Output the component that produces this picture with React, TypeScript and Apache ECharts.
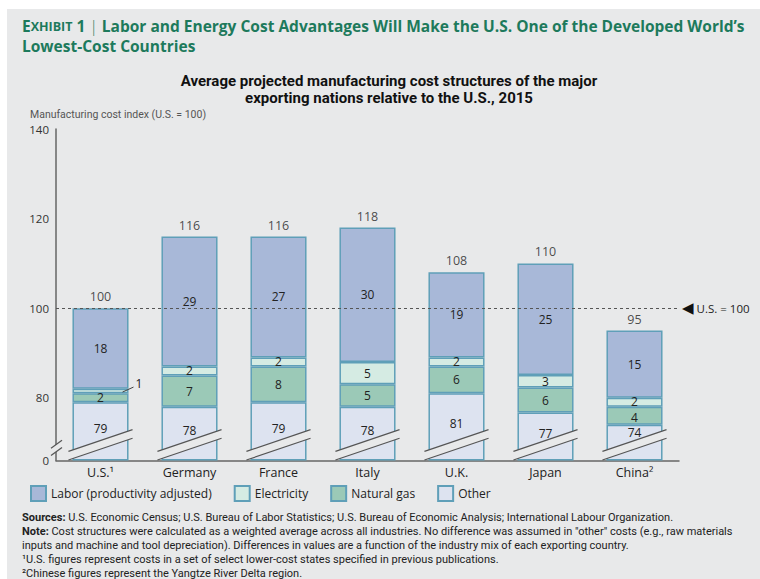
import React, { useEffect, useRef } from "react";
import * as echarts from "echarts";

const countries = ["U.S.¹", "Germany", "France", "Italy", "U.K.", "Japan", "China²"];
const otherCost = [79, 78, 79, 78, 81, 76.7, 74];
const naturalGasCost = [2, 7, 8, 5, 6, 5.6, 4];
const electricityCost = [1, 2, 2, 5, 2, 2.8, 2];
const laborCost = [18, 29, 27, 30, 19, 24.9, 15];
const totalCost = [100, 116, 116, 118, 108, 110, 95];
const yTickLabels = [0, 80, 100, 120, 140];
const seriesNames = ["Labor (productivity adjusted)", "Electricity", "Natural gas", "Other"];
const referenceLevel = 100;
const axisBase = 66; // real value that sits at the broken axis' "0"
const breakLevel = 69.5; // real value where break marks cross the bars

const BG = "#e8e9ea";
const GREEN = "#1d7a5c";
const BORDER = "#5f9fb8";
const FONT = "'Open Sans', 'Noto Sans', sans-serif";
const NARROW = "'Liberation Sans Narrow', 'Roboto', sans-serif";

const colors = {
  labor: "#a8b8d8",
  electricity: "#d5ebe3",
  gas: "#9bc9b7",
  other: "#dde3f0",
};

export default function App() {
  const ref = useRef<HTMLDivElement>(null);

  useEffect(() => {
    if (!ref.current) return;
    const chart = echarts.init(ref.current, null, { renderer: "svg" });
    const last = countries.length - 1;

    const valueLabel = (arr: number[]) => ({
      show: true,
      position: "inside" as const,
      color: "#222",
      fontFamily: FONT,
      fontSize: 12,
      lineHeight: 12,
      formatter: (p: any) => String(Math.round(arr[p.dataIndex])),
    });

    const itemStyle = (color: string) => ({
      color,
      borderColor: BORDER,
      borderWidth: 1.5,
    });

    const option: any = {
      animation: false,
      backgroundColor: "transparent",
      grid: { left: 56, right: 81, top: 129, bottom: 118.5, containLabel: false },
      legend: {
        data: seriesNames,
        left: 25,
        top: 480,
        icon: "rect",
        itemWidth: 15,
        itemHeight: 15,
        itemGap: 22,
        selectedMode: false,
        textStyle: { fontFamily: FONT, fontSize: 12, color: "#222" },
      },
      xAxis: {
        type: "category",
        data: countries,
        axisLine: { show: true, lineStyle: { color: "#666", width: 1.5 } },
        axisTick: { show: false },
        axisLabel: { fontFamily: FONT, fontSize: 12.5, color: "#222", margin: 5 },
      },
      yAxis: {
        type: "value",
        min: 0,
        max: 140 - axisBase,
        splitLine: { show: false },
        axisTick: { show: false },
        axisLine: { show: true, lineStyle: { color: "#666", width: 1.5 } },
        axisLabel: {
          customValues: yTickLabels.map((v) => (v === 0 ? 0 : v - axisBase)),
          formatter: (v: number) => (v === 0 ? "0" : String(Math.round(v + axisBase))),
          fontFamily: FONT,
          fontSize: 11.5,
          color: "#333",
          margin: 7,
        },
      },
      series: [
        {
          name: "Other",
          type: "bar",
          stack: "cost",
          barWidth: "63%",
          itemStyle: itemStyle(colors.other),
          label: { ...valueLabel(otherCost), offset: [0, -3] },
          data: otherCost.map((v, i) =>
            i === last ? { value: v - axisBase, label: { offset: [0, -10] } } : v - axisBase
          ),
        },
        {
          name: "Natural gas",
          type: "bar",
          stack: "cost",
          itemStyle: itemStyle(colors.gas),
          label: valueLabel(naturalGasCost),
          data: naturalGasCost.map((v, i) =>
            i === last ? { value: v, label: { offset: [0, 1.5] } } : v
          ),
        },
        {
          name: "Electricity",
          type: "bar",
          stack: "cost",
          itemStyle: itemStyle(colors.electricity),
          label: valueLabel(electricityCost),
          data: electricityCost.map((v, i) =>
            v < 1.5
              ? { value: v, label: { show: false } }
              : i === last
              ? { value: v, label: { offset: [0, -1] } }
              : v
          ),
        },
        {
          name: "Labor (productivity adjusted)",
          type: "bar",
          stack: "cost",
          itemStyle: itemStyle(colors.labor),
          label: valueLabel(laborCost),
          data: laborCost,
          markLine: {
            silent: true,
            symbol: ["none", "none"],
            lineStyle: { color: "#555", width: 1.2, type: [3, 3] },
            label: {
              show: true,
              position: "end",
              distance: 3,
              formatter: "{t|◀}{u| U.S. = 100}",
              rich: {
                t: { fontSize: 15, color: "#111", fontFamily: "'DejaVu Sans', sans-serif" },
                u: { fontSize: 11.5, color: "#222", fontFamily: FONT },
              },
            },
            data: [{ yAxis: referenceLevel - axisBase }],
          },
        },
        {
          name: "total",
          type: "scatter",
          silent: true,
          symbolSize: 0,
          z: 4,
          label: {
            show: true,
            position: "top",
            distance: 5,
            color: "#222",
            fontFamily: FONT,
            fontSize: 12.5,
            formatter: (p: any) => String(totalCost[p.dataIndex]),
          },
          data: totalCost.map((v, i) => [i, v - axisBase]),
        },
        {
          name: "break",
          type: "custom",
          silent: true,
          z: 3,
          renderItem: (_params: any, api: any) => {
            const c = api.coord([api.value(0), api.value(1)]);
            const half = api.size([1, 0])[0] * 0.36;
            const rise = half * 0.34;
            const gap = 4.3;
            const x1 = c[0] - half;
            const x2 = c[0] + half;
            const y1 = c[1] + rise;
            const y2 = c[1] - rise;
            return {
              type: "group",
              children: [
                {
                  type: "polygon",
                  shape: {
                    points: [
                      [x1, y1 - gap],
                      [x2, y2 - gap],
                      [x2, y2 + gap],
                      [x1, y1 + gap],
                    ],
                  },
                  style: { fill: BG },
                },
                {
                  type: "line",
                  shape: { x1, y1: y1 - gap, x2, y2: y2 - gap },
                  style: { stroke: "#555", lineWidth: 1.2 },
                },
                {
                  type: "line",
                  shape: { x1, y1: y1 + gap, x2, y2: y2 + gap },
                  style: { stroke: "#555", lineWidth: 1.2 },
                },
              ],
            };
          },
          data: countries.map((_, i) => [i, breakLevel - axisBase]),
        },
      ],
    };

    chart.setOption(option);

    // decorations positioned from the chart's own scales
    const p0 = chart.convertToPixel({ gridIndex: 0 }, [0, breakLevel - axisBase]) as number[];
    const p1 = chart.convertToPixel({ gridIndex: 0 }, [1, breakLevel - axisBase]) as number[];
    const band = p1[0] - p0[0];
    const axisX = p0[0] - band / 2;
    const by = p0[1] + 3;
    const g = 3.6;
    const usElec = chart.convertToPixel({ gridIndex: 0 }, [
      0,
      otherCost[0] - axisBase + naturalGasCost[0] + electricityCost[0] / 2,
    ]) as number[];

    const footStyle = { fontFamily: NARROW, fontSize: 11, fill: "#222" };

    chart.setOption({
      graphic: [
        {
          type: "text",
          left: 22,
          top: 18,
          style: {
            text:
              "{e|E}{s|XHIBIT}{e| 1}{bar| | }{t|Labor and Energy Cost Advantages Will Make the U.S. One of the Developed World’s}\n{t|Lowest-Cost Countries}",
            rich: {
              e: { fontFamily: FONT, fontSize: 15.5, fontWeight: 700, fill: GREEN, lineHeight: 20 },
              s: { fontFamily: FONT, fontSize: 12.5, fontWeight: 700, fill: GREEN, lineHeight: 20 },
              bar: { fontFamily: FONT, fontSize: 15.5, fontWeight: 300, fill: GREEN, lineHeight: 20 },
              t: { fontFamily: FONT, fontSize: 15.5, fontWeight: 700, fill: GREEN, lineHeight: 20 },
            },
          },
        },
        {
          type: "text",
          x: 389,
          y: 72,
          style: {
            text:
              "Average projected manufacturing cost structures of the major\nexporting nations relative to the U.S., 2015",
            fontFamily: NARROW,
            fontSize: 15,
            fontWeight: 700,
            fill: "#111",
            align: "center",
            verticalAlign: "top",
            lineHeight: 17,
          },
        },
        {
          type: "text",
          x: 30,
          y: 114,
          style: {
            text: "Manufacturing cost index (U.S. = 100)",
            fontFamily: NARROW,
            fontSize: 10.5,
            fill: "#555",
            verticalAlign: "middle",
          },
        },
        // y-axis break mark
        {
          type: "polygon",
          z: 10,
          shape: {
            points: [
              [axisX - 5, by + 4 - g],
              [axisX + 6, by - 4 - g],
              [axisX + 6, by - 4 + g],
              [axisX - 5, by + 4 + g],
            ],
          },
          style: { fill: BG },
        },
        {
          type: "line",
          z: 10,
          shape: { x1: axisX - 5, y1: by + 4 - g, x2: axisX + 6, y2: by - 4 - g },
          style: { stroke: "#555", lineWidth: 1.2 },
        },
        {
          type: "line",
          z: 10,
          shape: { x1: axisX - 5, y1: by + 4 + g, x2: axisX + 6, y2: by - 4 + g },
          style: { stroke: "#555", lineWidth: 1.2 },
        },
        // U.S. electricity callout
        {
          type: "line",
          z: 10,
          shape: { x1: usElec[0] + 22, y1: usElec[1] + 1, x2: usElec[0] + 33, y2: usElec[1] - 4 },
          style: { stroke: "#444", lineWidth: 1 },
        },
        {
          type: "text",
          z: 10,
          x: usElec[0] + 35,
          y: usElec[1] - 8,
          style: {
            text: String(electricityCost[0]),
            fontFamily: FONT,
            fontSize: 12,
            fill: "#222",
            verticalAlign: "middle",
          },
        },
        {
          type: "text",
          left: 22,
          top: 511,
          style: {
            text:
              "{b|Sources:} U.S. Economic Census; U.S. Bureau of Labor Statistics; U.S. Bureau of Economic Analysis; International Labour Organization.\n" +
              "{b|Note:} Cost structures were calculated as a weighted average across all industries. No difference was assumed in \"other\" costs (e.g., raw materials\n" +
              "inputs and machine and tool depreciation). Differences in values are a function of the industry mix of each exporting country.\n" +
              "¹U.S. figures represent costs in a set of select lower-cost states specified in previous publications.\n" +
              "²Chinese figures represent the Yangtze River Delta region.",
            ...footStyle,
            lineHeight: 13.9,
            rich: {
              b: { ...footStyle, fontWeight: 700, lineHeight: 13.9 },
            },
          },
        },
      ],
    });

    return () => chart.dispose();
  }, []);

  return (
    <div style={{ position: "absolute", left: 0, top: 0, width: 760, height: 579, background: "#fff" }}>
      <div style={{ position: "absolute", left: 7, top: 9, width: 753, height: 570, background: BG }} />
      <div ref={ref} style={{ position: "absolute", left: 0, top: 0, width: 760, height: 579 }} />
    </div>
  );
}
